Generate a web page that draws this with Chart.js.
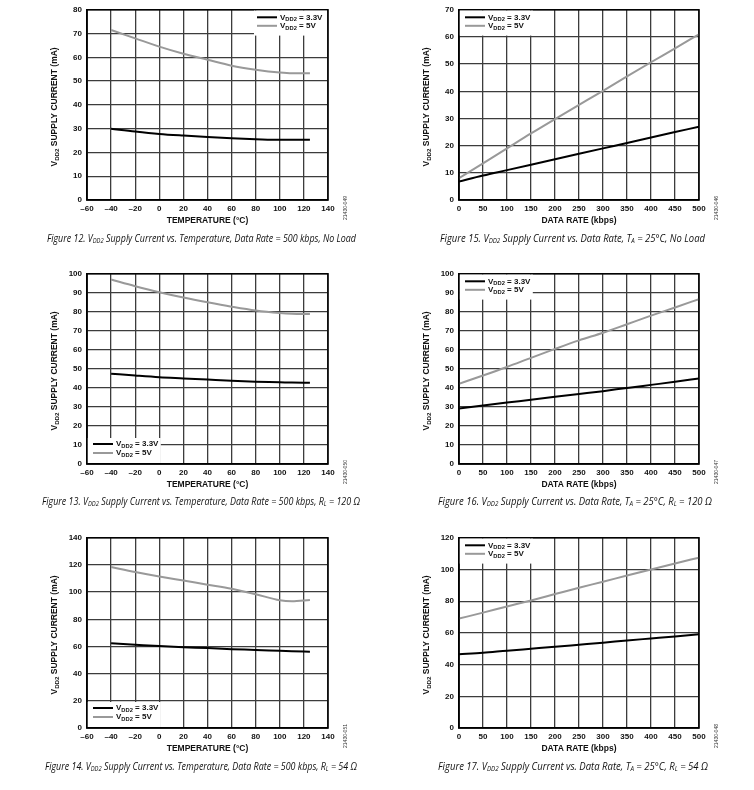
<!DOCTYPE html>
<html>
<head>
<meta charset="utf-8">
<script src="https://cdn.jsdelivr.net/npm/chart.js@4.4.1/dist/chart.umd.min.js"></script>
<style>
  body { margin: 0; background: #fff; width: 754px; height: 790px; position: relative; overflow: hidden; }
  canvas { position: absolute; }
  .cap { position: absolute; white-space: nowrap; font: italic 10px "Open Sans", sans-serif; color: #111; transform-origin: 0 50%; }
  .cap sub { font-size: 6.5px; vertical-align: -1px; }
</style>
</head>
<body>
<canvas id="c12" width="377" height="232" style="left:0;top:0"></canvas>
<canvas id="c15" width="377" height="232" style="left:377px;top:0"></canvas>
<canvas id="c13" width="377" height="232" style="left:0;top:264px"></canvas>
<canvas id="c16" width="377" height="232" style="left:377px;top:264px"></canvas>
<canvas id="c14" width="377" height="232" style="left:0;top:528px"></canvas>
<canvas id="c17" width="377" height="232" style="left:377px;top:528px"></canvas>

<div class="cap" data-l="47" data-r="356" style="top:231px">Figure 12. V<sub>DD2</sub> Supply Current vs. Temperature, Data Rate = 500 kbps, No Load</div>
<div class="cap" data-l="440" data-r="705" style="top:231px">Figure 15. V<sub>DD2</sub> Supply Current vs. Data Rate, T<sub>A</sub> = 25°C, No Load</div>
<div class="cap" data-l="42" data-r="360" style="top:494px">Figure 13. V<sub>DD2</sub> Supply Current vs. Temperature, Data Rate = 500 kbps, R<sub>L</sub> = 120 Ω</div>
<div class="cap" data-l="438" data-r="712" style="top:494px">Figure 16. V<sub>DD2</sub> Supply Current vs. Data Rate, T<sub>A</sub> = 25°C, R<sub>L</sub> = 120 Ω</div>
<div class="cap" data-l="45" data-r="357" style="top:759px">Figure 14. V<sub>DD2</sub> Supply Current vs. Temperature, Data Rate = 500 kbps, R<sub>L</sub> = 54 Ω</div>
<div class="cap" data-l="438" data-r="708" style="top:759px">Figure 17. V<sub>DD2</sub> Supply Current vs. Data Rate, T<sub>A</sub> = 25°C, R<sub>L</sub> = 54 Ω</div>

<script>
// x values
const tempC = [-40, -20, 0, 20, 40, 60, 80, 100, 110, 125];
const rateKbps = [0, 50, 100, 150, 200, 250, 300, 350, 400, 450, 500];

// supply current (mA)
const fig12_33 = [30, 28.8, 27.8, 27.1, 26.5, 26, 25.6, 25.3, 25.3, 25.3];
const fig12_5 = [71.5, 68, 64.5, 61.5, 59, 56.5, 54.8, 53.6, 53.3, 53.3];
const fig13_33 = [47.5, 46.5, 45.6, 45, 44.4, 43.8, 43.3, 43, 42.8, 42.7];
const fig13_5 = [97, 93.5, 90.3, 87.5, 85, 82.7, 80.7, 79.4, 79, 78.8];
const fig14_33 = [62.3, 61.3, 60.3, 59.5, 58.8, 58, 57.5, 56.8, 56.5, 56.2];
const fig14_5 = [118.5, 114.8, 111.5, 108.5, 105.5, 102.5, 98.5, 94, 93.3, 94.3];
const fig15_33 = [6.8, 9, 11, 13, 15, 17, 19, 21, 23, 25, 27];
const fig15_5 = [8, 13.5, 19, 24.5, 29.8, 35, 40.2, 45.5, 50.7, 55.8, 61];
const fig16_33 = [29.2, 30.8, 32.3, 33.8, 35.3, 36.8, 38.3, 40, 41.6, 43.2, 45];
const fig16_5 = [42.2, 46.5, 51, 55.8, 60.5, 65, 69, 73.5, 78, 82.3, 86.7];
const fig17_33 = [46.5, 47.5, 48.8, 50, 51.2, 52.5, 53.8, 55.2, 56.5, 57.8, 59.2];
const fig17_5 = [69, 72.8, 76.7, 80.5, 84.5, 88.5, 92.3, 96.2, 100, 103.8, 107.5];

const legendLabels = ['3.3V', '5V'];
const lineColors = ['#000000', '#999999'];

const FONT = '"Liberation Sans", Arial, sans-serif';

// draw text made of [main, sub, main, ...] pieces
function subText(ctx, parts, x, y, size, align) {
  const big = 'bold ' + size + 'px ' + FONT;
  const small = 'bold ' + (size * 0.72) + 'px ' + FONT;
  let w = 0;
  parts.forEach((p, i) => { ctx.font = i % 2 ? small : big; w += ctx.measureText(p).width; });
  let cx = align === 'center' ? x - w / 2 : x;
  ctx.textAlign = 'left';
  ctx.textBaseline = 'middle';
  parts.forEach((p, i) => {
    ctx.font = i % 2 ? small : big;
    ctx.fillText(p, cx, y + (i % 2 ? size * 0.28 : 0));
    cx += ctx.measureText(p).width;
  });
}

const decor = {
  id: 'decor',
  afterDraw(chart, args, o) {
    const {ctx, chartArea: a} = chart;
    ctx.save();
    ctx.strokeStyle = '#000';
    ctx.lineWidth = 1.5;
    ctx.strokeRect(a.left, a.top, a.width, a.height);

    // legend
    let bx, by, lx;
    if (o.corner === 'tr') { bx = a.right - 74; by = a.top + 0.8; lx = a.right - 71; }
    else if (o.corner === 'tl') { bx = a.left + 0.8; by = a.top + 0.8; lx = a.left + 6; }
    else { bx = a.left + 0.8; by = a.bottom - 26; lx = a.left + 6; }
    ctx.fillStyle = '#fff';
    ctx.fillRect(bx, by, 73, 25);
    const ly = o.corner === 'bl' ? [a.bottom - 20, a.bottom - 11] : [a.top + 7.5, a.top + 16];
    legendLabels.forEach((lab, i) => {
      ctx.strokeStyle = lineColors[i];
      ctx.lineWidth = 2;
      ctx.beginPath(); ctx.moveTo(lx, ly[i]); ctx.lineTo(lx + 20, ly[i]); ctx.stroke();
      ctx.fillStyle = '#111';
      subText(ctx, ['V', 'DD2', ' = ' + lab], lx + 23, ly[i], 8, 'left');
    });

    // axis titles
    ctx.fillStyle = '#111';
    ctx.font = 'bold 8.5px ' + FONT;
    ctx.textAlign = 'center';
    ctx.textBaseline = 'middle';
    ctx.fillText(o.xTitle, (a.left + a.right) / 2, a.bottom + 20.5);

    ctx.save();
    ctx.translate(a.left - 32, (a.top + a.bottom) / 2 + 2);
    ctx.rotate(-Math.PI / 2);
    subText(ctx, ['V', 'DD2', ' SUPPLY CURRENT (mA)'], 0, 0, 8.5, 'center');
    ctx.restore();

    // figure id
    ctx.save();
    ctx.translate(a.right + 18, a.bottom + 8);
    ctx.rotate(-Math.PI / 2);
    ctx.font = '5px ' + FONT;
    ctx.fillStyle = '#333';
    ctx.textAlign = 'center';
    ctx.fillText(o.figId, 0, 0);
    ctx.restore();
    ctx.restore();
  }
};

function makeChart(id, xs, s33, s5, x, y, opts) {
  new Chart(document.getElementById(id), {
    type: 'line',
    data: {
      datasets: [
        {data: xs.map((v, i) => ({x: v, y: s33[i]})), borderColor: lineColors[0]},
        {data: xs.map((v, i) => ({x: v, y: s5[i]})), borderColor: lineColors[1]}
      ]
    },
    options: {
      responsive: false,
      animation: false,
      events: [],
      elements: {
        point: {radius: 0},
        line: {borderWidth: 2, cubicInterpolationMode: 'monotone'}
      },
      layout: {padding: {left: opts.padL, right: opts.padR, top: 8, bottom: 18}},
      plugins: {
        legend: {display: false},
        tooltip: {enabled: false},
        decor: {corner: opts.corner, xTitle: opts.xTitle, figId: opts.figId}
      },
      scales: {
        x: {
          type: 'linear', min: x.min, max: x.max,
          afterFit: s => { s.height = 14; },
          grid: {color: '#3c3c3c', lineWidth: 1.3, drawTicks: false},
          border: {color: '#000', width: 1.5},
          ticks: {
            stepSize: x.step, autoSkip: false, maxRotation: 0, padding: 4,
            color: '#111', font: {family: FONT, size: 8, weight: 'bold'},
            callback: v => v < 0 ? '\u2013' + Math.abs(v) : String(v)
          }
        },
        y: {
          min: 0, max: y.max,
          afterFit: s => { s.width = 30; },
          grid: {color: '#3c3c3c', lineWidth: 1.3, drawTicks: false},
          border: {color: '#000', width: 1.5},
          ticks: {
            stepSize: y.step, padding: 5,
            color: '#111', font: {family: FONT, size: 8, weight: 'bold'}
          }
        }
      }
    },
    plugins: [decor]
  });
}

const tempAxis = {min: -60, max: 140, step: 20};
const rateAxis = {min: 0, max: 500, step: 50};
const leftPanel = {padL: 57, padR: 49, xTitle: 'TEMPERATURE (°C)'};
const rightPanel = {padL: 52, padR: 55, xTitle: 'DATA RATE (kbps)'};

makeChart('c12', tempC, fig12_33, fig12_5, tempAxis, {max: 80, step: 10}, {...leftPanel, corner: 'tr', figId: '21430-049'});
makeChart('c15', rateKbps, fig15_33, fig15_5, rateAxis, {max: 70, step: 10}, {...rightPanel, corner: 'tl', figId: '21430-046'});
makeChart('c13', tempC, fig13_33, fig13_5, tempAxis, {max: 100, step: 10}, {...leftPanel, corner: 'bl', figId: '21430-050'});
makeChart('c16', rateKbps, fig16_33, fig16_5, rateAxis, {max: 100, step: 10}, {...rightPanel, corner: 'tl', figId: '21430-047'});
makeChart('c14', tempC, fig14_33, fig14_5, tempAxis, {max: 140, step: 20}, {...leftPanel, corner: 'bl', figId: '21430-051'});
makeChart('c17', rateKbps, fig17_33, fig17_5, rateAxis, {max: 120, step: 20}, {...rightPanel, corner: 'tl', figId: '21430-048'});

// stretch captions to the width they have in the figure
document.querySelectorAll('.cap').forEach(el => {
  const l = +el.dataset.l, r = +el.dataset.r;
  el.style.left = l + 'px';
  const w = el.getBoundingClientRect().width;
  el.style.transform = 'scaleX(' + ((r - l) / w) + ')';
});
</script>
</body>
</html>
